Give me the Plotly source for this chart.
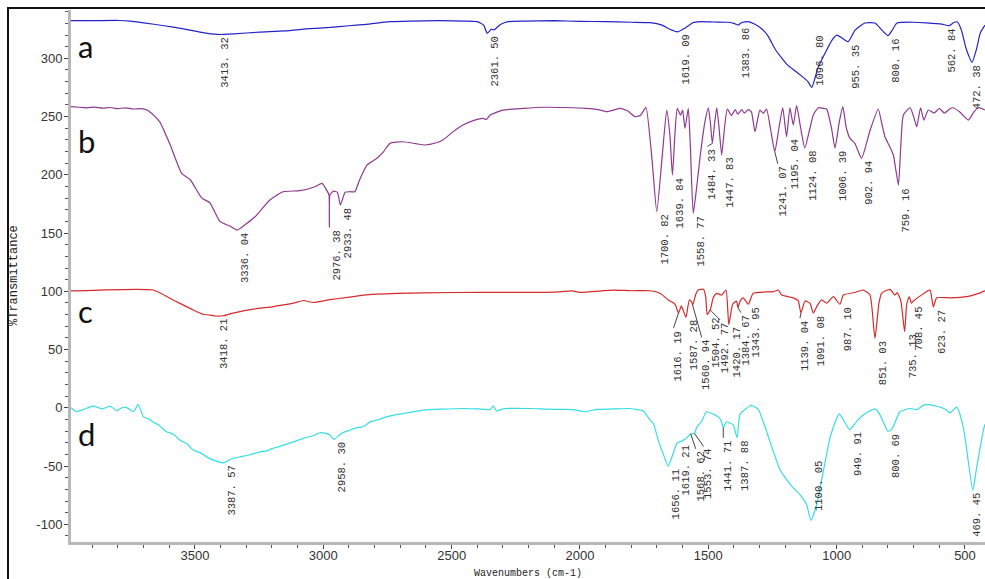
import plotly.graph_objects as go

# ---------------- spectra (wavenumber cm-1, %T with vertical offsets) ----------------
wn_a = [3983, 3900, 3800, 3753, 3700, 3620, 3550, 3480, 3413.32, 3350, 3250, 3150, 3050, 2974,
        2900, 2845, 2740, 2662, 2550, 2450, 2400, 2375, 2361.50, 2345, 2335, 2310, 2280, 2214,
        2100, 2000, 1900, 1800, 1727, 1680, 1650, 1619.09, 1590, 1560, 1530, 1480, 1420, 1400,
        1383.86, 1370, 1345, 1320, 1290, 1267, 1240, 1213, 1190, 1160, 1135, 1112, 1096.80,
        1073, 1045, 1018, 999, 979, 955.35, 928, 890, 851, 823, 800.16, 784, 765, 700, 650, 590,
        562.84, 545, 531, 515, 495, 472.38, 455, 440, 422]
t_a = [332.3, 332.3, 332.5, 332.0, 330.5, 328.0, 325.5, 322.5, 320.5, 321.0, 322.5, 323.5, 325.5, 326.5,
       328.0, 329.0, 331.5, 332.0, 332.3, 332.0, 331.5, 328.5, 321.5, 325.0, 324.5, 329.0, 331.5, 332.0,
       332.3, 331.8, 331.5, 331.0, 330.6, 328.5, 325.0, 322.8, 326.0, 330.5, 331.5, 331.2, 331.0, 330.0,
       328.6, 330.5, 331.5, 329.5, 325.0, 319.0, 308.0, 300.0, 294.0, 289.0, 284.5, 280.0, 275.1,
       291.6, 304.5, 315.7, 320.0, 317.4, 314.3, 324.3, 330.3, 330.3, 324.0, 319.4, 324.0, 330.3, 331.0, 330.5, 329.4,
       328.0, 330.5, 331.4, 325.0, 308.0, 296.6, 308.0, 322.0, 328.5]

wn_b = [3983, 3950, 3920, 3890, 3860, 3830, 3800, 3770, 3740, 3710, 3687, 3660, 3636, 3597, 3551,
        3519, 3473, 3442, 3403, 3364, 3336.04, 3300, 3266, 3208, 3157, 3091, 3032, 3005, 2985, 2978,
        2976.38, 2974, 2960, 2945, 2933.48, 2915, 2896, 2877, 2860, 2830, 2791, 2765, 2740, 2690,
        2640, 2604, 2560, 2534, 2500, 2456, 2410, 2378, 2365, 2350, 2300, 2220, 2144, 2060, 1973,
        1930, 1895, 1870, 1844, 1815, 1786, 1765, 1758, 1743, 1720, 1700.82, 1680, 1662, 1650,
        1639.84, 1630, 1621, 1608, 1600, 1591, 1578, 1570, 1558.77, 1545, 1532, 1513, 1500, 1492,
        1484.33, 1475, 1467, 1458, 1447.83, 1437, 1426, 1410, 1395, 1385, 1370, 1360, 1344, 1332,
        1318, 1299, 1286, 1273, 1258, 1241.07, 1225, 1210, 1195.04, 1182, 1169, 1156, 1140,
        1124.08, 1104, 1090, 1071, 1050, 1039, 1020, 1006.39, 990, 976, 962, 948, 929, 902.94,
        870, 838, 825, 812, 795, 779, 770, 759.16, 750, 740, 714, 700, 688, 673, 660, 643, 620,
        600, 580, 560, 547, 520, 487, 465, 448, 422]
t_b = [258.5, 258.0, 257.5, 258.2, 257.3, 257.8, 256.8, 257.5, 256.5, 256.8, 255.6, 251.0, 245.0, 226.0, 201.0,
       196.0, 180.0, 176.0, 160.0, 156.0, 152.6, 158.0, 164.0, 178.4, 185.5, 186.4, 189.8, 192.7, 186.0, 183.0,
       155.0, 183.0, 186.0, 185.0, 174.1, 185.0, 185.5, 185.5, 195.0, 208.4, 214.2, 220.0, 227.0, 228.4,
       226.8, 225.6, 227.5, 229.9, 236.0, 242.7, 247.0, 248.5, 247.5, 251.3, 255.6, 257.0, 258.0, 257.8, 257.1,
       256.0, 254.2, 255.5, 257.1, 255.0, 249.9, 251.0, 253.0, 258.0, 215.0, 168.3, 215.0, 255.6, 235.0,
       199.8, 235.0, 257.0, 251.3, 255.6, 239.9, 257.0, 225.0, 167.0, 190.0, 215.5, 245.6, 257.6, 245.0,
       227.0, 245.0, 257.6, 240.0, 217.0, 240.0, 256.5, 251.0, 256.0, 252.0, 256.0, 253.0, 256.0, 254.0,
       237.0, 255.6, 252.8, 256.5, 240.0, 219.8, 240.0, 257.6, 232.7, 257.6, 242.7, 259.4, 240.0,
       223.0, 240.0, 252.0, 257.6, 257.0, 256.5, 240.0, 223.0, 245.0, 258.5, 240.0, 231.3, 227.0, 214.2,
       238.0, 256.5, 245.0, 232.7, 225.0, 217.0, 205.0, 191.2, 225.0, 251.3, 257.6, 250.0, 241.3, 257.6, 247.0, 255.6, 253.0,
       257.0, 253.0, 256.5, 257.6, 254.0, 247.0, 254.0, 257.6, 255.6]

wn_c = [3983, 3870, 3663, 3585, 3507, 3468, 3440, 3418.21, 3390, 3351, 3273, 3195, 3117, 3078, 3039,
        2981, 2900, 2844, 2714, 2500, 2260, 2100, 2030, 2000, 1870, 1800, 1727, 1688, 1656, 1630,
        1616.19, 1605, 1587.28, 1574, 1565, 1560.94, 1548, 1539, 1519, 1510, 1504.52, 1492.77, 1480,
        1467, 1448, 1431, 1420.17, 1405, 1390, 1384.67, 1375, 1364, 1343.95, 1325, 1247, 1227, 1214,
        1169, 1150, 1139.04, 1123, 1104, 1091.08, 1075, 1058, 1039, 1013, 987.10, 974, 930, 896, 870,
        851.03, 835, 825, 792, 773, 764, 750, 735.13, 727, 717, 708.45, 701, 649, 636, 623.27, 610,
        558, 493, 450, 422]
t_c = [100.3, 101.1, 101.1, 92.6, 84.0, 80.3, 79.5, 78.8, 79.0, 81.3, 84.7, 86.9, 89.8, 92.1, 90.4,
       92.6, 95.0, 96.8, 98.3, 99.0, 99.1, 99.3, 100.3, 99.1, 101.1, 100.5, 100.5, 98.4, 92.6, 89.0,
       81.3, 87.5, 77.7, 92.6, 91.0, 88.0, 98.0, 101.1, 101.7, 95.0, 80.0, 84.0, 95.0,
       98.3, 96.8, 101.1, 71.4, 88.9, 91.7, 86.0, 92.0, 94.4, 88.9, 98.3, 99.7, 101.1, 96.8,
       94.4, 92.0, 81.3, 91.7, 89.8, 81.3, 88.0, 92.6, 89.8, 95.4, 88.9, 96.8, 99.0, 101.1, 96.8,
       59.7, 90.0, 98.3, 101.7, 96.8, 98.8, 92.0, 65.3, 88.9, 95.4, 89.8, 91.7, 99.9, 101.1, 86.8, 94.4,
       94.4, 95.4, 98.0, 100.5]

wn_d = [3983, 3963, 3930, 3896, 3860, 3831, 3805, 3780, 3760, 3740, 3721, 3701, 3680, 3663, 3640,
        3611, 3585, 3558, 3530, 3507, 3480, 3455, 3420, 3387.57, 3360, 3325, 3290, 3247, 3220, 3200,
        3175, 3156, 3120, 3100, 3078, 3040, 3013, 2990,
        2974, 2958.30, 2930, 2896, 2870, 2844, 2818, 2790, 2754, 2720, 2689, 2650, 2611, 2540, 2455,
        2400, 2351, 2338, 2325, 2300, 2195, 2130, 2065, 2020, 1981, 1935, 1870, 1805, 1770, 1753,
        1727, 1714, 1695, 1675, 1656.11, 1636, 1623, 1619.21, 1604, 1584, 1568.62, 1553.74, 1546,
        1526, 1507, 1487, 1461, 1450, 1441.71, 1430, 1417, 1403, 1387.88, 1377, 1357, 1331, 1305,
        1273, 1247, 1221, 1195, 1169, 1143, 1117, 1100.05, 1078, 1052, 1026, 1000, 990, 974,
        949.91, 922, 890, 851, 831, 800.69, 786, 753, 714, 688, 656, 610, 575, 558, 532, 506,
        469.45, 455, 429, 422]
t_d = [0.0, -3.4, -1.0, 1.5, -1.0, 1.5, -2.5, 0.5, -0.5, -3.4, 2.9, -7.8, -9.5, -12.1, -15.0,
       -20.6, -22.5, -27.8, -31.0, -36.3, -38.5, -42.1, -45.5, -47.2, -44.0, -42.1, -40.5, -37.8, -37.0, -35.0,
       -33.5, -32.0, -29.5, -28.0, -26.2, -24.0, -21.4, -22.0,
       -23.4, -27.1, -22.0, -19.1, -17.0, -16.3, -12.1, -10.5, -7.8, -6.0, -4.9, -3.5, -2.0, -1.2, -0.6,
       -1.0, -1.4, 1.5, -2.7, -0.8, -0.6, -1.2, -1.4, -1.8, -3.4, -1.4, -1.0, -0.6, -1.8, -2.7,
       -10.5, -13.5, -27.7, -40.0, -50.1, -38.6, -30.5, -30.0, -28.6, -25.8, -22.3, -22.0, -17.2,
       -11.5, -3.4, -4.9, -7.8, -11.0, -17.2, -12.0, -13.1, -14.6, -25.8, -5.8, -1.5, 2.2, -1.5,
       -20.1, -37.3, -53.0, -61.6, -68.7, -74.5, -83.1, -96.7, -83.1, -54.5, -25.8, -8.7, -5.2, -10.1,
       -18.7, -11.6, -5.2, -0.9, -6.0, -20.1, -18.7, -3.4, -0.6, -1.5, 2.8, 1.3, -1.5, -4.4, 0.6, -17.2,
       -70.6, -52.0, -20.1, -14.0]

# labelled peak positions for each spectrum
peaks_a = [3413.32, 2361.50, 1619.09, 1383.86, 1096.80, 955.35, 800.16, 562.84, 472.38]
peaks_b = [3336.04, 2976.38, 2933.48, 1700.82, 1639.84, 1558.77, 1484.33, 1447.83, 1241.07,
           1195.04, 1124.08, 1006.39, 902.94, 759.16]
peaks_c = [3418.21, 1616.19, 1587.28, 1560.94, 1504.52, 1492.77, 1420.17, 1384.67, 1343.95,
           1139.04, 1091.08, 987.10, 851.03, 735.13, 708.45, 623.27]
peaks_d = [3387.57, 2958.30, 1656.11, 1619.21, 1568.62, 1553.74, 1441.71, 1387.88, 1100.05,
           949.91, 800.69, 469.45]

series_names = ["a", "b", "c", "d"]
x_ticks = [3500, 3000, 2500, 2000, 1500, 1000, 500]
y_ticks = [300, 250, 200, 150, 100, 50, 0, -50, -100]

# ---------------- layout constants ----------------
W, H = 985, 579
M_L, M_R, M_T, M_B = 71, 0, 10, 37
PLOT_W = W - M_L - M_R
PLOT_H = H - M_T - M_B
X_RANGE = [3983, 422]
Y_RANGE = [-115.2, 341.5]
XPP = (X_RANGE[0] - X_RANGE[1]) / PLOT_W   # cm-1 per pixel
YPP = (Y_RANGE[1] - Y_RANGE[0]) / PLOT_H   # %T per pixel

colors = ["#2323c8", "#8e3a8e", "#d42a2a", "#36dde6"]

LABEL_SIZE = 10.5
CHAR_W = 0.6 * LABEL_SIZE          # monospaced advance width
label_font = dict(family="Liberation Mono", size=LABEL_SIZE, color="#333")

# label placement tweaks for crowded peaks: (dx px, dy px, leader line)
label_shift = {
    562.84: (-5, 0, False),
    472.38: (-3, 0, False),
    469.45: (-4, 0, False),
    1484.33: (-8, 3, True),
    1241.07: (0, 12, True),
    1616.19: (-8, 15, True),
    1560.94: (6, 32, True),
    1492.77: (7, 10, True),
    1384.67: (0, 5, True),
    1139.04: (-4, 5, True),
    1568.62: (2, 15, True),
    1553.74: (6, 13, True),
    1441.71: (-3, 10, True),
}
# peaks whose label sits above the band (gap in px between label end and band)
label_above = {1096.80: 2, 1100.05: 10}

fig = go.Figure()
annotations = []
lead_x, lead_y = [], []

spectra = [(wn_a, t_a, peaks_a), (wn_b, t_b, peaks_b), (wn_c, t_c, peaks_c), (wn_d, t_d, peaks_d)]
for (wn, t, peaks), col, name in zip(spectra, colors, series_names):
    fig.add_trace(go.Scatter(x=wn, y=t, mode="lines", name=name,
                             line=dict(color=col, width=1.2, shape="spline", smoothing=0.5),
                             hoverinfo="skip"))
    for p in peaks:
        v = t[wn.index(p)]
        text = f"{p:.2f}".replace(".", ". ")
        if p in label_above:
            # vertical text running upward from just above the band
            up = label_above[p] + len(text) * CHAR_W
            annotations.append(dict(x=p, y=v, xref="x", yref="y", text=text, showarrow=False,
                                    textangle=-90, xanchor="left", yanchor="top",
                                    xshift=1, yshift=up, borderpad=0, font=label_font))
            continue
        dx, dy, lead = label_shift.get(p, (0, 0, False))
        annotations.append(dict(x=p, y=v, xref="x", yref="y", text=text, showarrow=False,
                                textangle=-90, xanchor="left", yanchor="top",
                                xshift=dx + 1, yshift=-(dy + 2), borderpad=0, font=label_font))
        if lead:
            lead_x += [p, p - (dx + 3) * XPP, None]
            lead_y += [v, v - dy * YPP, None]

fig.add_trace(go.Scatter(x=lead_x, y=lead_y, mode="lines", line=dict(color="#444", width=1),
                         hoverinfo="skip", showlegend=False))

# panel letters
letter_y = {"a": 46, "b": 141, "c": 311, "d": 434}
for name in series_names:
    annotations.append(dict(x=(76 - M_L) / PLOT_W, y=(H - M_B - letter_y[name]) / PLOT_H,
                            xref="paper", yref="paper", text=name, showarrow=False,
                            xanchor="left", yanchor="middle",
                            font=dict(family="Lato", size=31, color="#111")))

# axis titles
annotations.append(dict(x=0.5, y=(H - M_B - 573) / PLOT_H, xref="paper", yref="paper",
                        text="Wavenumbers (cm-1)", showarrow=False, xanchor="center", yanchor="middle",
                        font=dict(family="Liberation Mono", size=10, color="#222")))
annotations.append(dict(x=(14 - M_L) / PLOT_W, y=0.5, xref="paper", yref="paper",
                        text="%Transmittance", showarrow=False, textangle=-90,
                        xanchor="center", yanchor="middle",
                        font=dict(family="Liberation Mono", size=12, color="#222")))

axis_common = dict(showgrid=False, zeroline=False, showline=True, linecolor="#b8b8b8",
                   linewidth=3, ticks="outside", ticklen=4, tickwidth=1, tickcolor="#444",
                   tickfont=dict(family="Liberation Sans Narrow, Liberation Sans", size=13, color="#333"))

fig.update_layout(
    width=W, height=H,
    margin=dict(l=M_L, r=M_R, t=M_T, b=M_B),
    paper_bgcolor="white", plot_bgcolor="white",
    showlegend=False,
    xaxis=dict(range=X_RANGE, tickvals=x_ticks, ticktext=[str(v) for v in x_ticks],
               minor=dict(dtick=100, ticks="outside", ticklen=3, tickcolor="#555"),
               ticklabelstandoff=-5, **axis_common),
    yaxis=dict(range=Y_RANGE, tickvals=y_ticks, ticktext=[str(v) for v in y_ticks],
               minor=dict(dtick=10, ticks="outside", ticklen=3, tickcolor="#555"),
               ticklabelstandoff=-1, **axis_common),
    annotations=annotations,
    shapes=[dict(type="rect", xref="paper", yref="paper",
                 x0=(8 - M_L) / PLOT_W, x1=1.05, y0=-0.2, y1=1 + (M_T - 8) / PLOT_H,
                 line=dict(color="#111", width=2), layer="above")],
)

fig.write_html("out.html")
